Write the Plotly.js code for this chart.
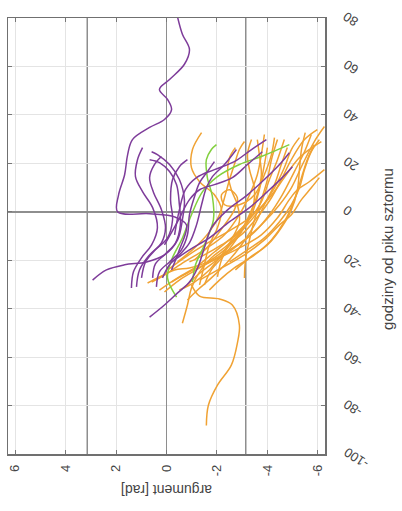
<!DOCTYPE html>
<html>
<head>
<meta charset="utf-8">
<script src="https://cdn.plot.ly/plotly-3.0.1.min.js"></script>
<style>
html,body{margin:0;padding:0;background:#fff;}
#chart{width:402px;height:511px;}
</style>
</head>
<body>
<div id="chart"></div>
<script>
// Axis ticks
const argTicks = [-6, -4, -2, 0, 2, 4, 6];
const hourTicks = [-100, -80, -60, -40, -20, 0, 20, 40, 60, 80];
const argRange = [2 * Math.PI, -2 * Math.PI];
const hourRange = [-100, 80];
const refArgs = [-Math.PI, Math.PI];

// Purple series: hours from storm peak, and argument [rad]
const purpleHours = [
  [-24,-15.7,-5.4,-2.1,-0.8,0,7,15.3,23.6,29.8,34.8,38.1,42.2,46.4,50.5,54.6,60.9,67,73.3,80.3],
  [-28.2,-24,-21.9,-20.7,-17.8,-11.6,-3.3,5,13.3,19.5,23.6,24.8],
  [-31.5,-24.8,-19,-13.7,-6.6,1.7,8.3,14.5,21.5,26.5],
  [-31,-24,-17.8,-12.8,-6.6,0.8,7.9,14.1,19.5,22.8],
  [-27.3,-20.7,-15.7,-10.8,-3.3,5,13.3,18.6,21.5],
  [-27.3,-21.5,-17.4,-12.8,-5.4,2.9,11.2,16.6,20.3,21.5],
  [-31,-24.8,-20.7,-15.7,-9.5,-1.2,6.2,12,16.6,20.7],
  [-27.3,-21.9,-17.8,-12.8,-5.4,2.9,9.9,14.5,19.5,25.7],
  [-9.5,0.8,9.1,14.1,17.4,20.7,25.7,29.8],
  [-13.7,-4.1,5,9.1,11.2,14.1,19.5,24.8],
  [-43.5,-38.5,-33.5,-29,-23.2,-14.9,-6.6,0.8,7,13.3,19.5,24.4],
  [-20.7,-15.7,-10.8,-4.1,1.7,8.3,14.1,18.6]
];
const purpleArgs = [
  [-0.2,-0.51,-0.79,-0.32,0.67,1.94,1.9,1.66,1.54,1.35,0.67,0.08,-0.2,-0.04,0.28,-0.12,-0.71,-0.91,-0.63,-0.44],
  [2.93,2.38,1.66,0.79,0.08,-0.44,-0.63,-0.71,-0.51,-0.12,0.36,0.59],
  [1.39,1.31,0.99,0.59,0.36,0.55,0.95,1.23,1.15,0.95],
  [1.19,1.07,0.67,0.2,0.04,0.2,0.51,0.67,0.48,0.2],
  [0.99,0.83,0.44,-0.04,-0.24,-0.16,-0.24,-0.51,-0.83],
  [0.55,0.44,0.04,-0.36,-0.55,-0.51,-0.4,-0.12,0.28,0.67],
  [0.4,0.28,-0.12,-0.59,-0.83,-0.91,-1.11,-1.31,-1.62,-1.9],
  [0.16,-0.12,-0.51,-0.91,-1.19,-1.39,-1.58,-1.82,-2.3,-2.77],
  [-0.32,-0.51,-0.75,-1.19,-1.9,-2.69,-3.37,-3.96],
  [0.08,-0.44,-0.91,-1.31,-1.9,-2.61,-3.21,-3.8],
  [0.67,0.08,-0.44,-0.91,-1.23,-1.5,-1.78,-2.42,-3.21,-3.88,-4.48,-4.87],
  [-0.2,-0.91,-1.7,-2.5,-3.29,-4,-4.59,-4.99]
];

// Green series
const greenHours = [
  [-35.2,-27.3,-19.9,-10.8,-1.2,8.3,14.5,19.5,22.8,27.7],
  [-29,-21.9,-13.7,-3.3,6.2,14.1,21.5,25.7,27.7]
];
const greenArgs = [
  [-0.4,-0.04,-0.2,-0.63,-0.99,-1.43,-2.02,-2.89,-3.76,-4.87],
  [-1.03,-1.15,-1.5,-1.86,-1.82,-1.62,-1.58,-1.78,-1.98]
];

// Orange series
const orangeHours = [
  [-88.2,-79.9,-71.6,-63.3,-54.2,-46.8,-38.5,-36,-34.8,-30.2],
  [-46,-38.5,-31.5,-24.8,-19,-13.7,-6.6,1.7,9.9,18.2,25.7,30.6],
  [-30.2,-21.9,-13.7,-6.6,0.8,7,12.4,18.2,25.7,32.7],
  [-33.1,-28.2,-23.2,-17.8,-11.6,-4.1,2.9,9.9,19.5,29,35.2],
  [-29,-24.8,-19.9,-14.9,-9.5,-2.5,5,9.1,12.4,17.4],
  [-27.3,-19.9,-11.6,-3.3,5,13.3,21.5,29.8],
  [-29,-26.1,-20.7,-15.7,-9.5,-1.2,7,15.3,23.6,31.9],
  [-32.3,-27.3,-23.2,-16.6,-10.8,-4.1,4.1,13.3,21.5,29.8],
  [-31.5,-26.1,-20.7,-14.9,-8.3,-1.2,7,16.6,24.8,31.9],
  [-26.9,-19.9,-13.7,-8.3,-1.2,5.8,13.3,21.5,29.8,33.9],
  [-19.9,-13.7,-5.4,0.8,5.8,9.1,7,2.9,2.9,7,15.3,23.6,30.6],
  [-20.7,-14.9,-8.3,-1.2,5.8,13.3,19.5,25.7,29],
  [-24,-19,-13.7,-8.3,-2.5,5.8,14.1,21.5,25.7,29],
  [-30.2,-24,-17.8,-10.8,-1.2,7,15.3,23.6,29.8],
  [-20.7,-17.8,-13.7,-8.3,0,9.1,17.4,23.6,29.8],
  [-20.7,-15.7,-10.8,-4.1,2.9,9.9,17.4,24.8,29.8],
  [-28.2,-23.2,-17.8,-11.6,-5.4,-1.2,5,9.9,14.1],
  [-32.3,-29,-24,-17.8,-11.6,-4.1,2.9,9.1,16.6,22.4,26.5],
  [-29.4,-26.9,-24,-23.2,-20.7,-15.7,-9.5,-1.2,9.1,19.5,26.5],
  [-32.3,-28.2,-23.2,-17.8,-11.6,-4.1,5,14.1,21.5,27.7],
  [-36.4,-32.3,-27.3,-20.7,-13.7,-5.4,2.9,11.2,19.5,26.5],
  [-24,-19,-13.7,-6.6,0.8,9.1,17.4,25.7,32.7]
];
const orangeArgs = [
  [-1.58,-1.66,-2.02,-2.57,-2.81,-2.89,-2.61,-2.1,-1.31,-0.99],
  [-0.63,-0.83,-0.99,-1.31,-1.78,-2.42,-3.09,-3.76,-4.28,-4.67,-4.95,-5.27],
  [-1.31,-1.5,-1.7,-2.02,-2.18,-1.9,-1.31,-0.99,-1.03,-1.39],
  [0.08,-0.51,-1.31,-2.18,-3.09,-3.88,-4.48,-4.95,-5.39,-5.86,-6.26],
  [-0.2,-0.91,-1.9,-2.89,-3.76,-4.4,-4.87,-5.19,-5.66,-6.26],
  [-3.09,-3.13,-3.29,-3.49,-3.76,-4,-4.16,-4.4],
  [0.59,0.08,-0.71,-1.5,-2.3,-2.89,-3.29,-3.6,-3.76,-3.88],
  [0.28,-0.44,-1.11,-1.9,-2.57,-3.21,-3.76,-4.08,-4.4,-4.67],
  [-0.71,-1.23,-1.9,-2.69,-3.49,-4.08,-4.59,-5.07,-5.47,-5.74],
  [-2.02,-2.18,-2.5,-3.09,-3.68,-4.16,-4.55,-4.95,-5.47,-5.98],
  [-1.11,-1.7,-2.3,-2.69,-2.81,-2.5,-2.18,-2.3,-2.89,-3.49,-3.88,-4.16,-4.28],
  [-0.44,-1.11,-1.7,-2.1,-2.3,-2.5,-2.69,-2.89,-3.09],
  [-0.04,-0.71,-1.5,-2.42,-3.29,-4.08,-4.67,-5.19,-5.66,-6.14],
  [-1.5,-1.78,-2.3,-2.81,-3.29,-3.6,-3.76,-3.68,-3.6],
  [-0.91,-1.5,-2.18,-2.89,-3.37,-3.49,-3.29,-3.21,-3.37],
  [-2.5,-3.21,-3.88,-4.48,-4.95,-5.27,-5.47,-5.74,-6.06],
  [-1.31,-2.18,-3.09,-3.88,-4.48,-4.95,-5.35,-5.74,-6.06],
  [-0.51,-1.11,-1.7,-2.18,-2.57,-2.89,-2.81,-2.57,-2.42,-2.5,-2.73],
  [0.75,0.28,-0.32,-0.91,-1.62,-2.3,-2.89,-3.37,-3.68,-3.88,-4],
  [-1.7,-2.1,-2.69,-3.49,-4.16,-4.67,-5.07,-5.35,-5.58,-5.86],
  [-0.83,-1.23,-1.78,-2.42,-2.97,-3.49,-3.88,-4.28,-4.55,-4.79],
  [-2.73,-3.29,-4,-4.55,-4.95,-5.19,-5.27,-5.35,-5.5]
];

const colors = { purple: '#7e3c9a', orange: '#f0a233', green: '#82d03e' };
const fontFamily = 'Liberation Sans, Arial, sans-serif';

function makeTraces(hoursList, argsList, color) {
  return hoursList.map((h, i) => ({
    type: 'scatter', mode: 'lines',
    x: argsList[i], y: h,
    line: { color: color, width: 1.5, shape: 'spline', smoothing: 1 },
    hoverinfo: 'skip', showlegend: false
  }));
}

const traces = []
  .concat(makeTraces(orangeHours, orangeArgs, colors.orange))
  .concat(makeTraces(greenHours, greenArgs, colors.green))
  .concat(makeTraces(purpleHours, purpleArgs, colors.purple));

const shapes = refArgs.map(a => ({
  type: 'line', xref: 'x', yref: 'paper', x0: a, x1: a, y0: 0, y1: 1,
  line: { color: '#8e8e8e', width: 1.5 }, layer: 'below'
}));

const tickFont = { family: fontFamily, size: 13, color: '#444' };

// Hour tick labels (rotated, hanging down-right from each tick)
const hourLabels = hourTicks.map(h => ({
  text: String(h), xref: 'paper', yref: 'y', x: 1.042, y: h,
  xanchor: 'left', yanchor: 'top', yshift: 12,
  textangle: -147, showarrow: false, font: tickFont
}));

const layout = {
  width: 402, height: 511,
  margin: { l: 8, r: 77, t: 18, b: 57 },
  paper_bgcolor: '#ffffff', plot_bgcolor: '#ffffff',
  showlegend: false, hovermode: false,
  font: { family: fontFamily, color: '#444' },
  xaxis: {
    range: argRange, tickvals: argTicks, ticktext: argTicks.map(String),
    tickangle: -90, tickfont: tickFont,
    ticks: 'inside', ticklen: 4, tickwidth: 1, tickcolor: '#777',
    showline: true, linecolor: '#707070', linewidth: 1.5, mirror: 'ticks',
    showgrid: true, gridcolor: '#e4e4e4', gridwidth: 1,
    zeroline: true, zerolinecolor: '#8e8e8e', zerolinewidth: 1.5,
    ticklabelstandoff: 4
  },
  yaxis: {
    side: 'right', range: hourRange, tickvals: hourTicks,
    showticklabels: false,
    ticks: 'inside', ticklen: 4, tickwidth: 1, tickcolor: '#777',
    showline: true, linecolor: '#707070', linewidth: 1.5, mirror: 'ticks',
    showgrid: true, gridcolor: '#e4e4e4', gridwidth: 1,
    zeroline: true, zerolinecolor: '#8e8e8e', zerolinewidth: 1.5
  },
  shapes: shapes,
  annotations: hourLabels.concat([
    {
      text: 'argument [rad]', xref: 'paper', yref: 'paper',
      x: 0.5, y: -0.083, xanchor: 'center', yanchor: 'middle',
      textangle: 180, showarrow: false,
      font: { family: fontFamily, size: 14, color: '#444' }
    },
    {
      text: 'godziny od piku sztormu', xref: 'paper', yref: 'paper',
      x: 1.195, y: 0.47, xanchor: 'center', yanchor: 'middle',
      textangle: -90, showarrow: false,
      font: { family: fontFamily, size: 15, color: '#444' }
    }
  ])
};

Plotly.newPlot('chart', traces, layout, { staticPlot: true, displayModeBar: false });
</script>
</body>
</html>
